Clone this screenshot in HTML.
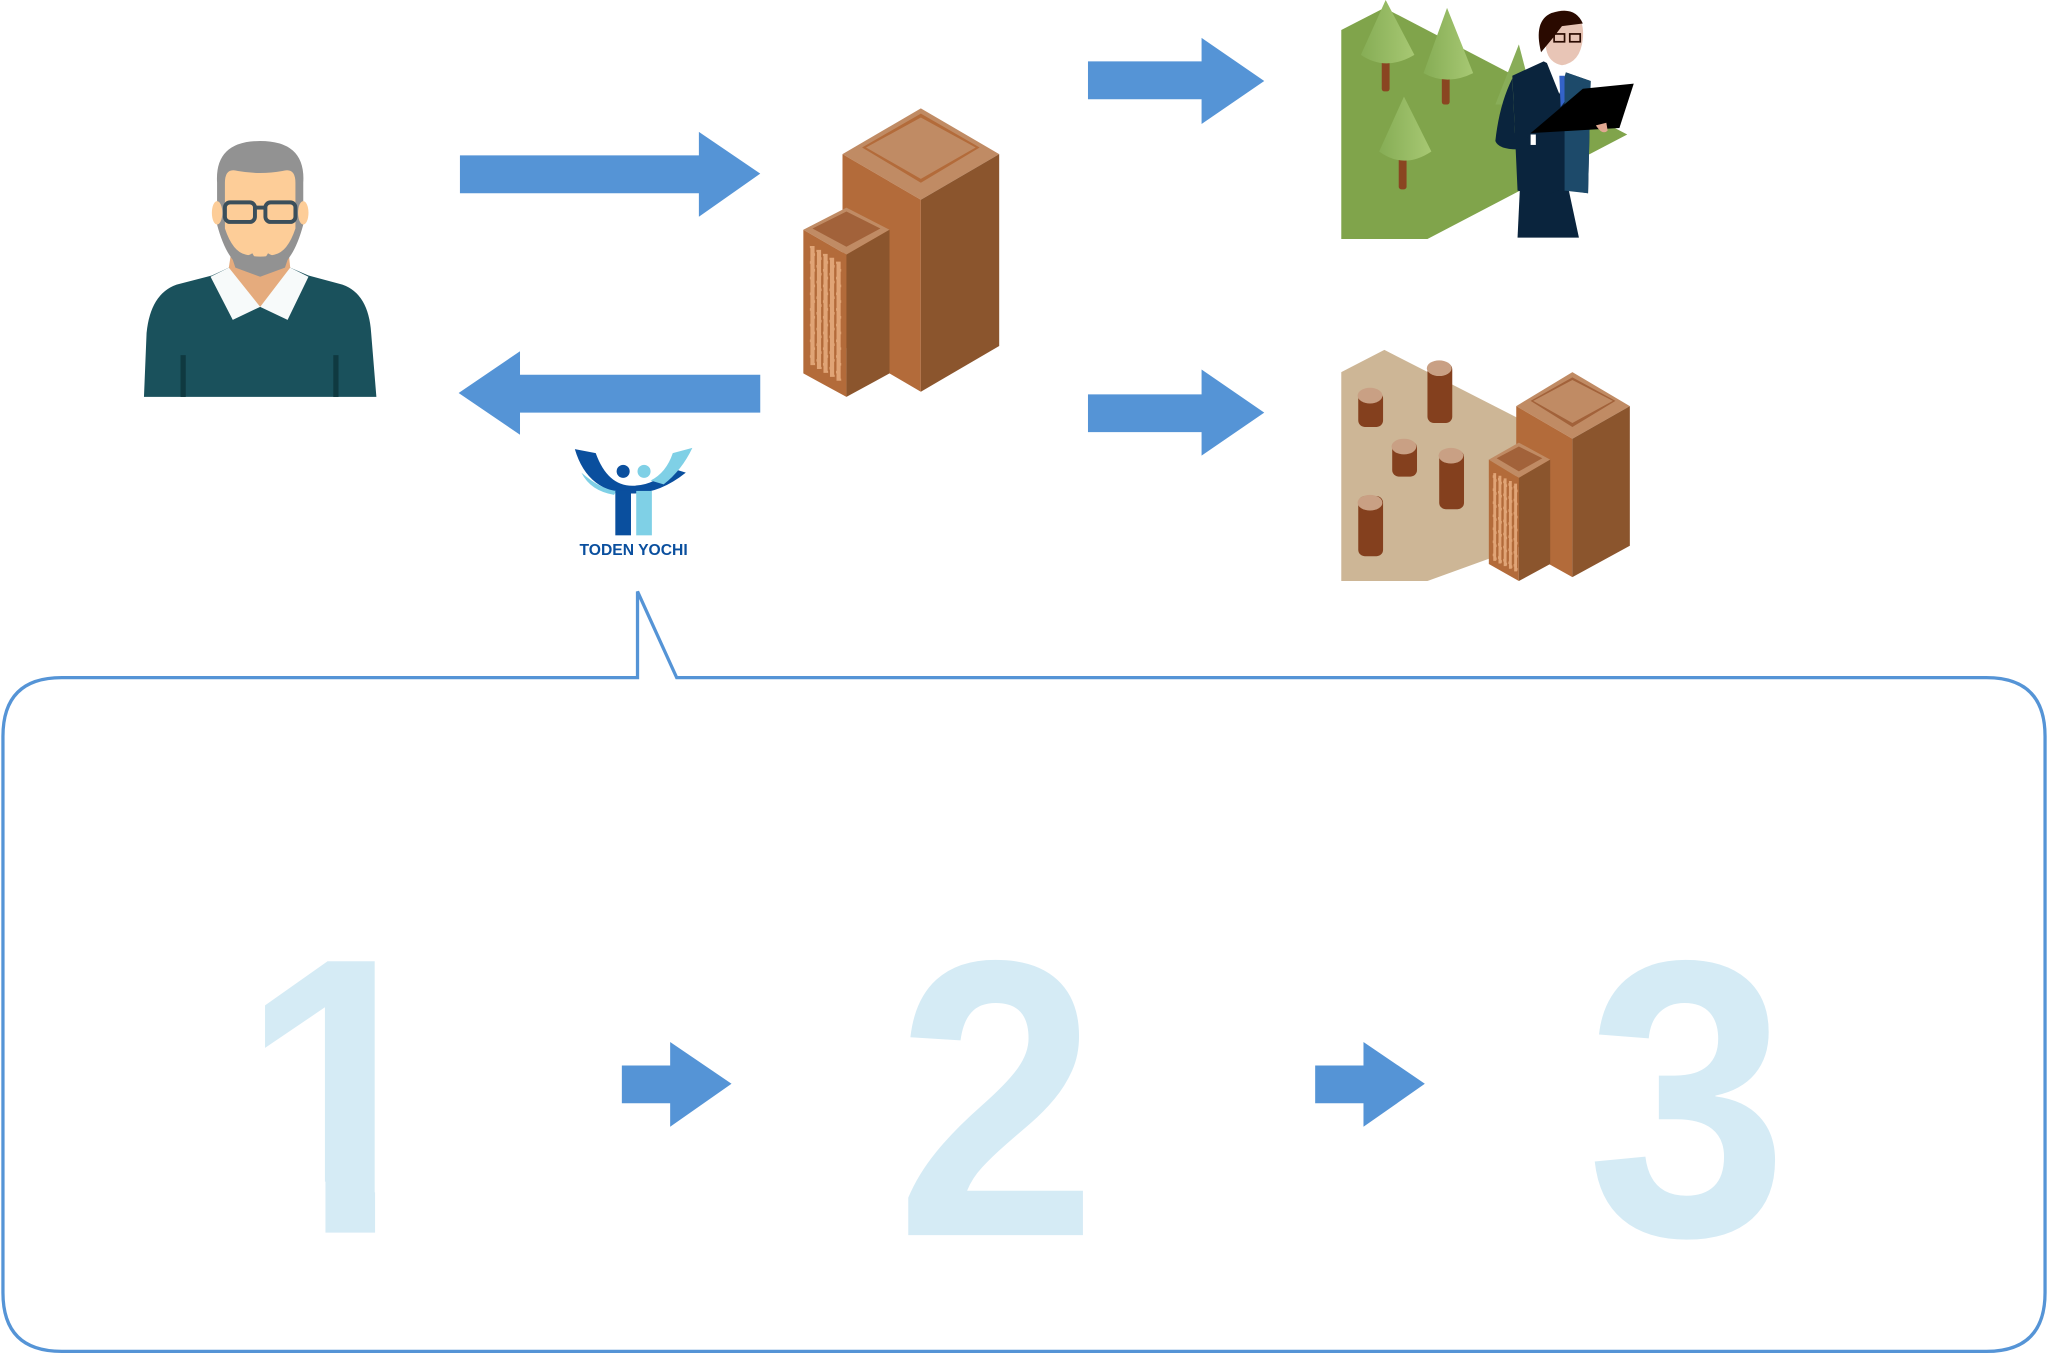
<!DOCTYPE html>
<html><head><meta charset="utf-8"><style>
html,body{margin:0;padding:0;background:#fff;width:2048px;height:1354px;overflow:hidden}
svg{display:block}
</style></head><body>
<svg width="2048" height="1354" viewBox="0 0 1568 1037" xmlns="http://www.w3.org/2000/svg">
<defs>
<linearGradient id="tg" x1="0" x2="1"><stop offset="0" stop-color="#86ad55"/><stop offset="1" stop-color="#a7c873"/></linearGradient>
</defs>
<!-- person -->
<path d="M110 304 L112 255 Q115 225 135 218 L162 211 L175 205 L222 205 L236 211 L262 218 Q282 225 284 255 L288 304 Z" fill="#1a515c"/>
<path d="M161 212 L178 245 L199 235 L220 245 L236 212 L222 205 L175 205 Z" fill="#f7fafa"/>
<path d="M175 205 L199 235 L222 205 L220 185 L178 185 Z" fill="#e5ab7d"/>
<rect x="138" y="272" width="4" height="32" fill="#0f3940"/>
<rect x="255" y="272" width="4" height="32" fill="#0f3940"/>
<path d="M166 140 Q164 108 199 108 Q234 108 232 140 L232 172 Q222 210 199 210 Q176 210 166 172 Z" fill="#929292"/>
<path d="M172 140 Q172 128 182 131 Q199 134 216 131 Q226 128 226 140 L226 175 Q220 193 210 195 Q199 198 188 195 Q178 193 172 175 Z" fill="#fdcd98"/>
<ellipse cx="166" cy="163" rx="4" ry="9" fill="#fdcd98"/><ellipse cx="232" cy="163" rx="4" ry="9" fill="#fdcd98"/>
<path d="M175 190 Q183 200 193 194 Q199 205 205 194 Q215 200 223 190 L218 205 L199 212 L180 205Z" fill="#929292"/>
<rect x="172" y="155" width="23" height="15" rx="4" fill="none" stroke="#3b4f5b" stroke-width="3"/>
<rect x="203" y="155" width="23" height="15" rx="4" fill="none" stroke="#3b4f5b" stroke-width="3"/>
<line x1="195" y1="159" x2="203" y2="159" stroke="#3b4f5b" stroke-width="3"/>
<!-- arrows -->
<g fill="#5594d6">
<polygon points="352,119 535,119 535,101 582,133 535,166 535,148 352,148"/>
<polygon points="582,287 398,287 398,269 351,301 398,333 398,316 582,316"/>
<polygon points="833,47 920,47 920,29 968,62 920,95 920,76 833,76"/>
<polygon points="833,302 920,302 920,283 968,316 920,349 920,331 833,331"/>
<polygon points="476,816 513,816 513,798 560,830 513,863 513,845 476,845"/>
<polygon points="1007,816 1044,816 1044,798 1091,830 1044,863 1044,845 1007,845"/>
</g>
<!-- main building -->
<polygon points="645,118 705,83 765,118 705,153" fill="#c08b64"/>
<polygon points="660,113 705,87 750,113 705,140" fill="#b36b3a"/>
<polygon points="663,113 705,90 747,113 705,137" fill="#c08b64"/>
<polygon points="645,118 705,153 705,300 645,265" fill="#b36b3a"/>
<polygon points="705,153 765,118 765,265 705,300" fill="#8b552d"/>
<polygon points="615,176 648,159 681,176 648,195" fill="#c08b64"/>
<polygon points="622,175 648,162 674,175 648,189" fill="#a2623a"/>
<polygon points="615,176 648,195 648,304 615,286" fill="#b36b3a"/>
<polygon points="648,195 681,176 681,286 648,304" fill="#8b552d"/>
<g fill="#e0a476" stroke="#b36b3a" stroke-width="0.8"><rect x="620" y="188" width="4" height="92" stroke-dasharray="10 2"/><rect x="625" y="191" width="4" height="92" stroke-dasharray="10 2"/><rect x="630" y="194" width="4" height="92" stroke-dasharray="10 2"/><rect x="635" y="197" width="4" height="92" stroke-dasharray="10 2"/><rect x="640" y="200" width="4" height="92" stroke-dasharray="10 2"/></g>
<!-- logo -->
<path d="M440 344 L456 347 Q465 372 484 372 Q502 372 512 358 L525 362 Q505 378 484 378 Q450 378 440 344Z" fill="#0a4f9e"/>
<path d="M530 343 L515 347 Q510 362 498 368 L508 371 Q522 360 530 343Z" fill="#7fd0e6"/>
<path d="M445 362 Q460 375 472 376 L470 379 Q452 376 445 362Z" fill="#7fd0e6"/>
<circle cx="477" cy="361" r="5" fill="#0a4f9e"/><circle cx="493" cy="361" r="5" fill="#7fd0e6"/>
<rect x="471" y="376" width="12" height="34" fill="#0a4f9e"/><rect x="487" y="376" width="12" height="34" fill="#7fd0e6"/>
<text x="485" y="425" text-anchor="middle" font-family="Liberation Sans, sans-serif" font-weight="bold" font-size="12" fill="#0a4f9e">TODEN YOCHI</text>
<!-- forest -->
<polygon points="1027,23 1060,6 1246,103 1093,183 1027,183" fill="#80a44b"/>
<g><rect x="1058" y="40" width="6" height="30" rx="2" fill="#8a4521"/><path d="M1061 0 L1083 42 Q1061 55 1042 42Z" fill="url(#tg)"/>
<rect x="1104" y="50" width="6" height="30" rx="2" fill="#8a4521"/><path d="M1108 6 L1128 56 Q1108 66 1090 56Z" fill="url(#tg)"/>
<rect x="1071" y="115" width="6" height="30" rx="2" fill="#8a4521"/><path d="M1075 74 L1096 116 Q1075 130 1056 116Z" fill="url(#tg)"/>
<path d="M1163 34 L1175 80 L1145 80Z" fill="#88ad58"/></g>
<!-- businessman -->
<path d="M1162 182 L1164 140 L1200 140 L1209 182 Z" fill="#0a243d"/>
<path d="M1158 58 L1182 47 L1198 55 L1218 62 L1216 148 L1196 145 L1182 150 L1162 146 Z" fill="#0a243d"/>
<path d="M1198 55 L1218 62 L1216 148 L1198 146Z" fill="#1d4a6a"/>
<path d="M1158 60 Q1148 80 1145 108 Q1148 116 1170 114 L1172 106 L1160 102 Z" fill="#0a243d"/>
<path d="M1184 47 L1194 72 L1200 52Z" fill="#fff"/><path d="M1194 58 L1198 58 L1198 78 L1195 82Z" fill="#3463c9"/>
<path d="M1182 24 Q1182 8 1198 8 Q1214 10 1212 30 Q1210 48 1196 50 Q1186 48 1184 38Z" fill="#e8c5b6"/>
<path d="M1180 40 Q1174 16 1188 10 Q1206 4 1212 18 L1196 20 L1190 28 Z" fill="#2a0a00"/>
<rect x="1190" y="26" width="8" height="6" fill="none" stroke="#2a0a00" stroke-width="1.3"/><rect x="1202" y="26" width="8" height="6" fill="none" stroke="#2a0a00" stroke-width="1.3"/>
<polygon points="1212,68 1251,64 1240,98 1172,102" fill="#000"/>
<path d="M1222 96 Q1227 104 1231 100 L1230 94Z" fill="#e0a891"/>
<rect x="1172" y="103" width="4" height="8" fill="#fff"/>
<!-- stumps land -->
<polygon points="1027,285 1060,268 1162,320 1162,420 1093,445 1027,445" fill="#cdb696"/>
<g>
<rect x="1040" y="300" width="19" height="27" rx="5" fill="#84401e"/><ellipse cx="1049" cy="303" rx="9.5" ry="6" fill="#c9a084"/>
<rect x="1093" y="278" width="19" height="46" rx="5" fill="#84401e"/><ellipse cx="1102" cy="282" rx="9.5" ry="6" fill="#c9a084"/>
<rect x="1066" y="338" width="19" height="27" rx="5" fill="#84401e"/><ellipse cx="1075" cy="342" rx="9.5" ry="6" fill="#c9a084"/>
<rect x="1102" y="345" width="19" height="45" rx="5" fill="#84401e"/><ellipse cx="1111" cy="349" rx="9.5" ry="6" fill="#c9a084"/>
<rect x="1040" y="380" width="19" height="46" rx="5" fill="#84401e"/><ellipse cx="1049" cy="385" rx="9.5" ry="6" fill="#c9a084"/>
</g>
<polygon points="1161,311 1204,285 1248,311 1204,336" fill="#c08b64"/>
<polygon points="1172,307 1204,289 1237,307 1204,327" fill="#a2623a"/>
<polygon points="1174,307 1204,291 1235,307 1204,324" fill="#c08b64"/>
<polygon points="1161,311 1204,336 1204,442 1161,418" fill="#b36b3a"/>
<polygon points="1204,336 1248,311 1248,418 1204,442" fill="#8b552d"/>
<polygon points="1140,352 1163,339 1187,352 1163,366" fill="#c08b64"/>
<polygon points="1146,351 1163,342 1181,351 1163,361" fill="#a2623a"/>
<polygon points="1140,352 1163,366 1163,445 1140,432" fill="#b36b3a"/>
<polygon points="1163,366 1187,352 1187,432 1163,445" fill="#8b552d"/>
<g fill="#e0a476" stroke="#b36b3a" stroke-width="0.8"><rect x="1143" y="362" width="3" height="68" stroke-dasharray="8 2"/><rect x="1147" y="364" width="3" height="68" stroke-dasharray="8 2"/><rect x="1151" y="366" width="3" height="68" stroke-dasharray="8 2"/><rect x="1155" y="368" width="3" height="68" stroke-dasharray="8 2"/><rect x="1159" y="370" width="3" height="68" stroke-dasharray="8 2"/></g>
<!-- callout -->
<path d="M47 519 L488 519 L488 453 L518 519 L1521 519 Q1566 519 1566 564 L1566 990 Q1566 1035 1521 1035 L47 1035 Q2 1035 2 990 L2 564 Q2 519 47 519 Z" fill="none" stroke="#5594d6" stroke-width="2.5"/>
<g font-family="Liberation Sans, sans-serif" font-weight="bold" font-size="302" fill="#d5ebf5" text-anchor="middle">
<text transform="translate(261 944) scale(0.92 1)">1</text>
<text transform="translate(763 946) scale(0.92 1)">2</text>
<text transform="translate(1292 946) scale(0.92 1)">3</text>
</g>
<!-- hide base serif of 1 -->
<rect x="160" y="905" width="89" height="45" fill="#fff"/>
<rect x="287" y="905" width="53" height="45" fill="#fff"/>
</svg>
</body></html>
